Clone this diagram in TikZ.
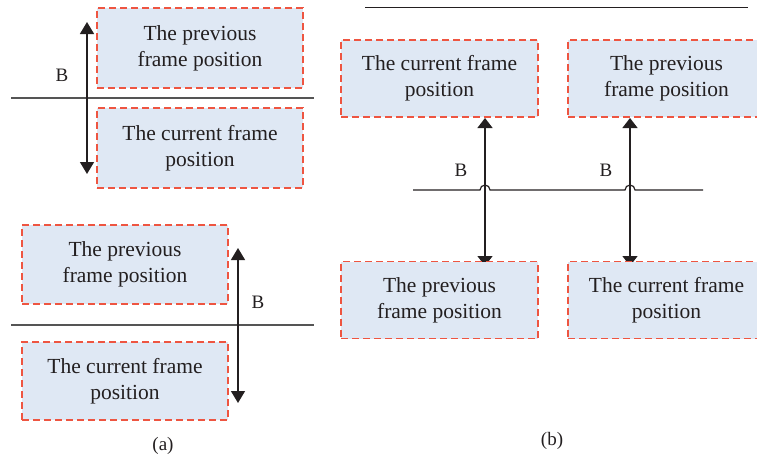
\documentclass[tikz,border=0pt]{standalone}
\usepackage{fontspec}
\setmainfont{Liberation Serif}
\usetikzlibrary{arrows.meta}
\definecolor{boxfill}{HTML}{DFE8F4}
\definecolor{boxedge}{HTML}{EE5541}
\definecolor{ink}{HTML}{231F20}
\definecolor{rule}{HTML}{555555}
\tikzset{
  framebox/.style={draw=boxedge, fill=boxfill, dash pattern=on 7pt off 4pt,
    line width=1.1pt, minimum width=206pt, minimum height=80pt, inner sep=0pt,
    align=center, text=ink, font=\fontsize{21.5}{26}\selectfont},
  wideb/.style={framebox, minimum width=197pt, minimum height=77pt},
  axis/.style={draw=rule, line width=1.3pt},
  motion/.style={draw=ink, line width=1.4pt, {Triangle[width=14pt,length=12pt]}-{Triangle[width=14pt,length=12pt]}},
  motionb/.style={draw=ink, line width=1.4pt, {Triangle[width=15pt,length=10pt]}-{Triangle[width=15pt,length=10pt]}},
  lbl/.style={text=ink, font=\fontsize{19}{22}\selectfont, inner sep=0pt},
}
\begin{document}
\begin{tikzpicture}[x=1pt,y=-1pt]
\useasboundingbox (0,0) rectangle (757,459);
\clip (0,0) rectangle (757,459);

% ---- panel (a), upper case ----
\node[framebox] (aPrev) at (200,48) {The previous\\frame position};
\node[framebox] (aCur) at (200,148) {The current frame\\position};
\coordinate (aL1) at (11,98);
\coordinate (aR1) at (314,98);
\draw[axis] (aL1) -- (aR1);
\coordinate (aTop1) at (87,22);
\coordinate (aBot1) at (87,174);
\draw[motion] (aBot1) -- (aTop1);
\node[lbl] (aB1) at (62,75) {B};

% ---- panel (a), lower case ----
\node[framebox, minimum height=79pt] (aPrev2) at (125,264.5) {The previous\\frame position};
\node[framebox, minimum height=78pt] (aCur2) at (125,381) {The current frame\\position};
\coordinate (aL2) at (11,325);
\coordinate (aR2) at (314,325);
\draw[axis] (aL2) -- (aR2);
\coordinate (aTop2) at (238,248);
\coordinate (aBot2) at (238,403);
\draw[motion] (aBot2) -- (aTop2);
\node[lbl] (aB2) at (258,302) {B};
\node[lbl] (capA) at (163,446) {(a)};

% ---- panel (b) ----
\coordinate (bTL) at (365,7);
\coordinate (bTR) at (748,7);
\draw[axis, draw=ink, line width=1pt] (bTL) -- (bTR);

\coordinate (hop1) at (485,190);
\coordinate (hop2) at (630,190);
\coordinate (bL) at (413,190);
\coordinate (bR) at (703,190);

% horizontal line hopping over both vertical arrows
\draw[draw=ink, line width=1.2pt]
  (bL) -- ([xshift=-5pt]hop1) arc[start angle=180, end angle=360, radius=5]
  -- ([xshift=-5pt]hop2) arc[start angle=180, end angle=360, radius=5]
  -- (bR);

% arrow ends: upper tips stop under the upper boxes, lower tips run under the lower boxes
\coordinate (up1) at (485,118);
\coordinate (dn1) at (485,266);
\coordinate (up2) at (630,118);
\coordinate (dn2) at (630,266);
\draw[motionb] (dn1) -- (up1);
\draw[motionb] (dn2) -- (up2);

\node[wideb] (bCurUp) at (439.5,78.5) {The current frame\\position};
\node[wideb] (bPrevUp) at (666.5,78.5) {The previous\\frame position};
\node[wideb] (bPrevDn) at (439.5,300) {The previous\\frame position};
\node[wideb] (bCurDn) at (666.5,300) {The current frame\\position};

\node[lbl] (bB1) at (461,170) {B};
\node[lbl] (bB2) at (606,170) {B};
\node[lbl] (capB) at (552,441) {(b)};
\end{tikzpicture}
\end{document}
